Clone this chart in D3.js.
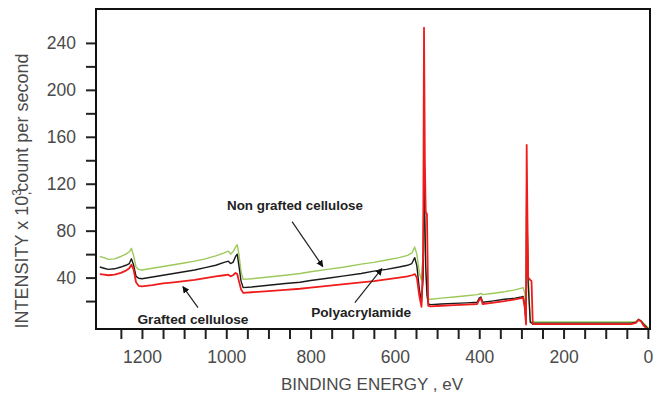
<!DOCTYPE html>
<html>
<head>
<meta charset="utf-8">
<script src="https://cdn.jsdelivr.net/npm/d3@7"></script>
<style>
  body { margin: 0; background: #fff; }
  svg { display: block; font-family: "Liberation Sans", Arial, sans-serif; }
</style>
</head>
<body>
<div id="chart"></div>
<script>
// binding energy (eV), shared by the three spectra
var energy = [1300, 1290, 1280, 1265, 1250, 1238, 1230, 1225, 1220, 1214, 1208, 1200, 1175, 1150, 1125, 1100,
  1075, 1050, 1025, 1005, 995, 990, 984, 978, 974, 970, 965, 960, 940, 900, 860, 825, 800, 760, 720, 680,
  650, 620, 590, 570, 560, 553, 548, 542, 537, 533, 531, 529, 527, 524, 521, 515, 490, 460, 430, 405, 400,
  396, 392, 370, 340, 315, 300, 296, 292, 289, 287.5, 286, 284, 279, 276, 273, 265, 230, 180, 130, 80, 40,
  28, 22, 16, 10, 4, -4];

// intensity x 10^3 counts per second
var nonGrafted = [58, 57, 55.5, 56, 58, 60, 62, 65, 59, 49, 47, 46.5, 48, 49.5, 51, 52.5,
  54, 56, 58.5, 61, 62.5, 60, 62, 66, 68, 60, 45, 38.5, 39, 40.5, 42, 43.5, 45, 47, 49, 51.5,
  53, 55, 57, 59, 61, 66, 60, 44, 38, 60, 105, 80, 45, 30, 22, 21.5, 22.5, 23.5, 24.5, 25.5, 26,
  26.5, 25.5, 26.5, 28, 29.5, 31, 31.5, 27, 8, 105, 80, 45, 3, 2.2, 2.2, 2.2, 2.2, 2.2, 2.2, 2.2, 2.2,
  2.5, 4, 3, 1, -1, -4];

var polyacrylamide = [49, 48, 47, 47.5, 49, 50.5, 52, 56, 51, 41, 39.5, 39, 40.5, 42, 43.5, 45,
  46.5, 48.5, 50.5, 53, 54, 52, 53, 58, 60, 50, 37, 31.5, 32, 33.5, 35, 36, 37.5, 39.5, 41.5, 43.5,
  45.5, 47, 49, 50.5, 52, 57, 50, 30, 19, 40, 135, 90, 50, 25, 17.5, 17, 17.5, 18, 18.5, 19, 22.5,
  23.5, 19, 20, 21.5, 22.5, 23.5, 24, 16, 2, 118, 78, 35, 2, 1.2, 1.2, 1.2, 1.2, 1.2, 1.2, 1.2, 1.2,
  2, 4.5, 3, 0, -2, -5];

var grafted = [43, 42.5, 42, 42.5, 44, 46, 48, 51, 47, 36, 33, 32.5, 33.5, 35, 36, 37,
  38, 39.5, 41, 42, 42.5, 41, 42, 44, 43, 37, 30, 27, 27.5, 28.5, 29.5, 30.5, 31.5, 33, 34.5, 36,
  37, 38.5, 40, 41, 42, 43, 40, 24, 15, 60, 253, 140, 96, 94, 16, 15.5, 16, 16.5, 17, 17.5, 21,
  22.5, 17.5, 18.5, 20, 21.5, 22.5, 23, 14, 0, 153, 100, 40, 38, 37, 0.3, 0.3, 0.3, 0.3, 0.3, 0.3, 0.3,
  1.5, 4, 2.5, -1, -3, -5];

var seriesNames = ["Non grafted cellulose", "Polyacrylamide", "Grafted cellulose"];
var seriesColors = ["#9cc95a", "#1a1a1a", "#f01c1c"];

var xTickValues = d3.range(1250, -1, -50);
var xLabelValues = [1200, 1000, 800, 600, 400, 200, 0];
var yTickValues = d3.range(20, 241, 20);
var yLabelValues = [40, 80, 120, 160, 200, 240];

// annotation text anchors and arrows, in data units [energy, intensity]
var notes = [
  {text: "Non grafted cellulose", at: [837, 97.4], width: 136, from: [844, 87.7], to: [771, 49.4]},
  {text: "Polyacrylamide", at: [680, 6.8], width: 100, from: [695, 18.7], to: [631, 47.7]},
  {text: "Grafted cellulose", at: [1079, 0.8], width: 111, from: [1067, 14.5], to: [1103, 32.3]}
];

var margin = {top: 9, right: 4, bottom: 71, left: 96},
    width = 654 - margin.left - margin.right,
    height = 400 - margin.top - margin.bottom;

var svg = d3.select("#chart")
  .append("svg")
  .attr("width", width + margin.left + margin.right)
  .attr("height", height + margin.top + margin.bottom);

var g = svg.append("g")
  .attr("transform", "translate(" + margin.left + "," + margin.top + ")");

var x = d3.scaleLinear().domain([1309, -5]).range([0, width]);
var y = d3.scaleLinear().domain([-3.8, 268.9]).range([height, 0]);

svg.append("defs").append("marker")
  .attr("id", "head")
  .attr("viewBox", "0 0 10 10")
  .attr("refX", 9).attr("refY", 5)
  .attr("markerWidth", 7).attr("markerHeight", 7)
  .attr("markerUnits", "userSpaceOnUse")
  .attr("orient", "auto")
  .append("path")
  .attr("d", "M0,0L10,5L0,10Z")
  .attr("fill", "#111");

// clip so the lines stop at the frame
g.append("clipPath").attr("id", "plot")
  .append("rect").attr("width", width).attr("height", height);

var line = d3.line()
  .x(function(d) { return x(d[0]); })
  .y(function(d) { return y(d[1]); });

// green first, red last so the spikes read red
var allSeries = [nonGrafted, polyacrylamide, grafted];
allSeries.forEach(function(values, i) {
  g.append("path")
    .datum(energy.map(function(e, k) { return [e, values[k]]; }))
    .attr("clip-path", "url(#plot)")
    .attr("fill", "none")
    .attr("stroke", seriesColors[i])
    .attr("stroke-width", i == 2 ? 1.8 : 1.4)
    .attr("stroke-linejoin", "round")
    .attr("d", line);
});

// x axis: ticks every 50 eV, labels every 200
var xAxis = g.append("g")
  .attr("transform", "translate(0," + height + ")")
  .call(d3.axisBottom(x).tickValues(xTickValues).tickSize(10)
    .tickFormat(function(d) { return xLabelValues.indexOf(d) >= 0 ? d : ""; }));
xAxis.select(".domain").remove();
xAxis.selectAll("line").attr("stroke", "#222").attr("stroke-width", 2);
xAxis.selectAll("text")
  .attr("y", 22)
  .attr("font-size", "17.5px")
  .attr("font-family", "Liberation Sans, Arial, sans-serif")
  .attr("fill", "#4a4a4a");

var yAxis = g.append("g")
  .call(d3.axisLeft(y).tickValues(yTickValues).tickSize(10)
    .tickFormat(function(d) { return yLabelValues.indexOf(d) >= 0 ? d : ""; }));
yAxis.select(".domain").remove();
yAxis.selectAll("line").attr("stroke", "#222").attr("stroke-width", 2);
yAxis.selectAll("text")
  .attr("x", -20)
  .attr("font-size", "17.5px")
  .attr("font-family", "Liberation Sans, Arial, sans-serif")
  .attr("fill", "#4a4a4a");

// frame
g.append("rect")
  .attr("width", width).attr("height", height)
  .attr("fill", "none")
  .attr("stroke", "#111")
  .attr("stroke-width", 2);

// annotations
notes.forEach(function(n) {
  g.append("line")
    .attr("x1", x(n.from[0])).attr("y1", y(n.from[1]))
    .attr("x2", x(n.to[0])).attr("y2", y(n.to[1]))
    .attr("stroke", "#222")
    .attr("stroke-width", 1.2)
    .attr("marker-end", "url(#head)");
  g.append("text")
    .attr("x", x(n.at[0])).attr("y", y(n.at[1]))
    .attr("text-anchor", "middle")
    .attr("font-size", "13px")
    .attr("font-weight", "bold")
    .attr("fill", "#222")
    .attr("textLength", n.width)
    .attr("lengthAdjust", "spacingAndGlyphs")
    .text(n.text);
});

// axis titles
svg.append("text")
  .attr("x", 372).attr("y", 390)
  .attr("text-anchor", "middle")
  .attr("font-size", "17px")
  .attr("fill", "#4a4a4a")
  .text("BINDING ENERGY , eV");

var yTitle = svg.append("text")
  .attr("transform", "translate(28,191) rotate(-90)")
  .attr("text-anchor", "middle")
  .attr("font-size", "18px")
  .attr("fill", "#4a4a4a");
yTitle.append("tspan").text("INTENSITY x 10");
yTitle.append("tspan").attr("font-size", "12px").attr("dy", -7).text("3");
yTitle.append("tspan").attr("font-size", "12px").attr("dx", -6).attr("dy", 9).text(",");
yTitle.append("tspan").attr("dy", -2).text("count per second");
</script>
</body>
</html>
